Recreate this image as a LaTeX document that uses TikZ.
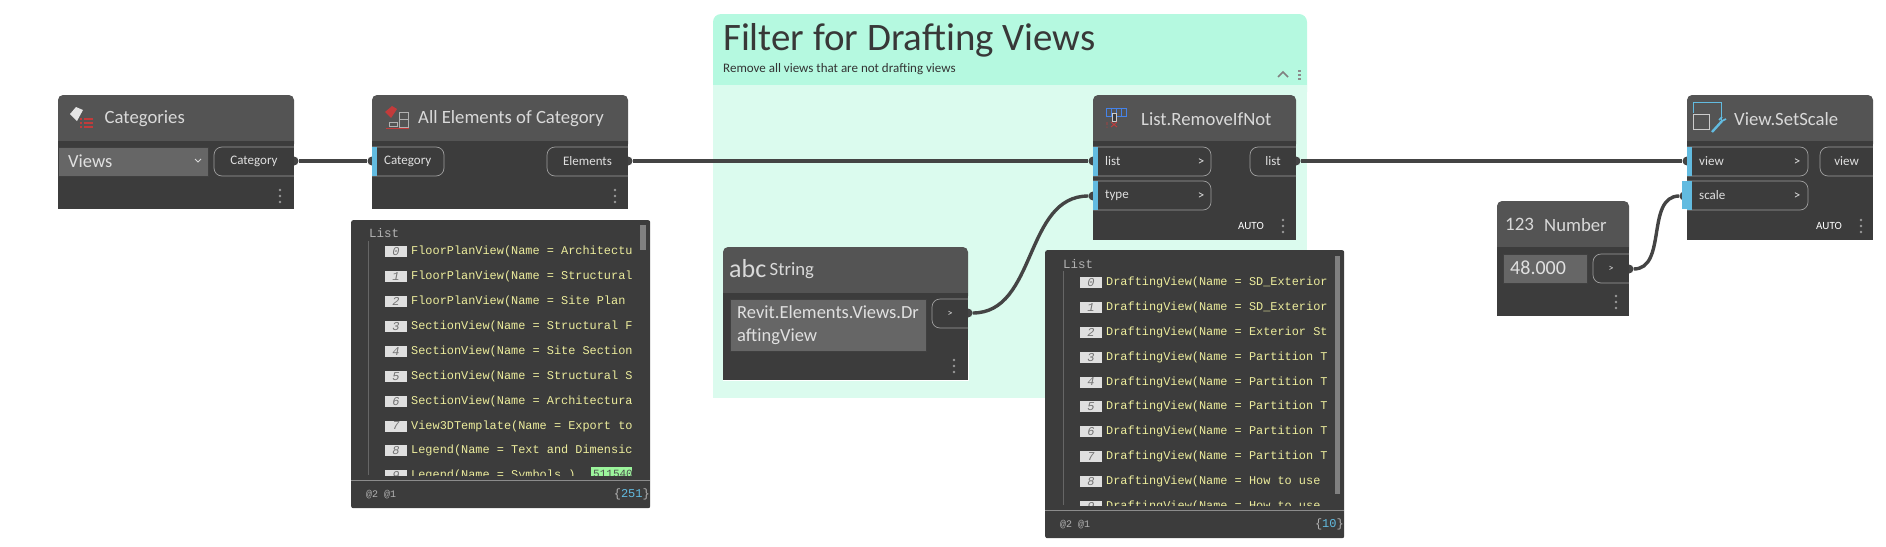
\documentclass[tikz,border=0pt]{standalone}
\usepackage{fontspec}
\setmainfont{Carlito}
\setmonofont{Liberation Mono}
\usetikzlibrary{positioning,arrows.meta}

\definecolor{bodyc}{HTML}{3C3C3C}
\definecolor{hdrc}{HTML}{545454}
\definecolor{portblue}{HTML}{62BBE0}
\definecolor{grouphdr}{HTML}{B5F9E0}
\definecolor{groupbody}{HTML}{DBFBEE}
\definecolor{valbox}{HTML}{666666}
\definecolor{wirec}{HTML}{444444}
\definecolor{listyellow}{HTML}{ECEC9C}
\definecolor{tagred}{HTML}{C23B3B}
\definecolor{taggreen}{HTML}{9CF59C}

\newcommand{\fpx}[1]{\fontsize{#1}{#1}\selectfont}

% name, x, y, width, height, header height, title x, title
\newcommand{\dynblock}[8]{
  \fill[hdrc,rounded corners=5pt] (#2,#3+#6+8) -- (#2,#3) -- (#2+#4,#3) -- (#2+#4,#3+#6+8) -- cycle;
  \node[blockbody,anchor=north west,minimum width=#4,minimum height=#5-#6] (#1) at (#2,#3+#6) {};
  \node[blocktitle] (#1title) at (#7,#3+#6/2+1) {#8};
}
% name, left, right, top, label
\newcommand{\inport}[5]{
  \draw[pill,rounded corners=8pt] (#2,#4) -- (#3,#4) -- (#3,#4+29) -- (#2,#4+29);
  \fill[portblue] (#2,#4) rectangle (#2+5,#4+29);
  \node[porttext,anchor=west] (#1) at (#2+12,#4+14) {#5};
}
\newcommand{\outport}[5]{
  \draw[pill,rounded corners=8pt] (#3,#4) -- (#2,#4) -- (#2,#4+29) -- (#3,#4+29);
  \node[porttext] (#1) at (#2/2+#3/2,#4+14.5) {#5};
}
\newcommand{\menudots}[2]{
  \foreach \d in {-6,0,6} \fill[gray!80] (#1,#2+\d) circle (1.3);
}
% x, y, index, text
\newcommand{\listrow}[4]{
  \fill[gray!25] (#1,#2-5.5) rectangle (#1+22,#2+5.5);
  \node[rownum] at (#1+11,#2) {#3};
  \node[rowtext] at (#1+26,#2) {#4};
}

\begin{document}
\begin{tikzpicture}[x=1pt,y=-1pt,
    blockbody/.style={fill=bodyc,inner sep=0pt,outer sep=0pt},
    blocktitle/.style={anchor=west,inner sep=0pt,font=\fpx{18.7},text=white!85!black},
    porttext/.style={inner sep=0pt,font=\fpx{13},text=white!88!black},
    pill/.style={draw=white!62!black,line width=0.7pt},
    valbox/.style={fill=valbox,draw=white!25!black,line width=0.7pt,inner sep=0pt},
    pin/.style={circle,fill=wirec,inner sep=0pt,minimum size=9pt},
    wire/.style={draw=wirec,line width=3.4pt},
    rownum/.style={inner sep=0pt,font=\ttfamily\itshape\fpx{12},text=black!55},
    rowtext/.style={anchor=west,inner sep=0pt,font=\ttfamily\fpx{11.9},text=listyellow},
    panel/.style={fill=bodyc,rounded corners=2pt},
    foot/.style={inner sep=0pt,font=\ttfamily\fpx{10},text=white!70!black},
    smalltext/.style={inner sep=0pt,font=\fpx{11},text=white}]
  \useasboundingbox (0,0) rectangle (1886,546);

  \fill[grouphdr,rounded corners=8pt] (713,100) -- (713,14) -- (1307,14) -- (1307,100) -- cycle;
  \fill[groupbody] (713,85) rectangle (1307,398);
  \node[anchor=base west,inner sep=0pt,font=\fpx{38.9},text=black!78] (grouptitle) at (723,50) {Filter for Drafting Views};
  \node[below=12pt of grouptitle.south west,anchor=west,inner sep=0pt,font=\fpx{13},text=black!80] (groupnote) {Remove all views that are not drafting views};
  \draw[black!50,line width=1.6pt] (1278,77) -- (1283,72) -- (1288,77);
  \foreach \d in {-4,0,4} \draw[black!45,line width=0.5pt] (1298,74+\d) rectangle (1300,75+\d);

  \node[pin] (catout) at (294,161) {};
  \node[pin] (allin) at (372,161) {};
  \node[pin] (allout) at (628,161) {};
  \node[pin] (listin) at (1093,161) {};
  \node[pin] (typein) at (1093,196) {};
  \node[pin] (listout) at (1296,161) {};
  \node[pin] (strout) at (968,313) {};
  \node[pin] (numout) at (1629,269) {};
  \node[pin] (viewin) at (1687,161) {};
  \node[pin] (scalein) at (1684,196) {};

  \dynblock{categories}{58}{95}{236}{114}{46}{104.5}{Categories}
  \fill[valbox] (58,147) rectangle (208,176);
  \node[anchor=west,inner sep=0pt,font=\fpx{18.5},text=white!88!black] (catvalue) at (68,161.5) {Views};
  \draw[white!85!black,line width=0.8pt] (195,159) -- (198,162) -- (201,159);
  \outport{catport}{214}{294}{147}{Category}
  \menudots{280}{196}
  \fill[white!90!black] (70,114) -- (76,107) -- (83,110) -- (77,121) -- cycle;
  \foreach \d in {119,123,127} {
    \fill[tagred] (80,\d-1) rectangle (82,\d+1);
    \fill[tagred] (84,\d-1) rectangle (93,\d+1);
  }

  \dynblock{allelements}{372}{95}{256}{114}{46}{418}{All Elements of Category}
  \inport{allcat}{372}{444}{147}{Category}
  \outport{allelem}{547}{628}{147}{Elements}
  \menudots{615}{196}
  \fill[tagred] (385,112) -- (392,106) -- (397,109) -- (391,118) -- cycle;
  \draw[white!70!black,line width=0.8pt] (399,112) rectangle (408,127) (399,119) -- (408,119) (389,122) rectangle (397,126);
  \draw[tagred,line width=0.8pt] (386,128) -- (409,128);

  \dynblock{removeif}{1093}{95}{203}{145}{46}{1141}{List.RemoveIfNot}
  \inport{remlist}{1093}{1211}{147}{list}
  \inport{remtype}{1093}{1211}{181}{type}
  \node[porttext] (remlistgt) at (1201,162) {>};
  \node[porttext] (remtypegt) at (1201,196) {>};
  \outport{remout}{1250}{1296}{147}{list}
  \node[smalltext,anchor=center] (remauto) at (1251,226) {AUTO};
  \menudots{1283}{226}
  \draw[portblue!70!blue,line width=0.8pt] (1106,108) rectangle (1126,116) (1111,108) -- (1111,116) (1116,108) -- (1116,116) (1121,108) -- (1121,116);
  \draw[white!80!black,fill=bodyc,line width=0.8pt] (1112,113) rectangle (1116,121);
  \draw[tagred,line width=0.9pt] (1111,122) -- (1117,127) (1117,122) -- (1111,127) (1107,122) -- (1107,125) (1107,126.5) -- (1107,127.5);

  \dynblock{stringnode}{723}{247}{245}{133}{46}{769.5}{String}
  \node[anchor=west,inner sep=0pt,font=\fpx{26},text=white!85!black] (abcicon) at (729,269) {abc};
  \node[valbox,minimum width=196,minimum height=52,anchor=north west] (strbox) at (729.5,299) {};
  \node[anchor=west,inner sep=0pt,align=left,font=\fontsize{18.5}{22.6}\selectfont,text=white!88!black] (strvalue) at (737,325) {Revit.Elements.Views.Dr\\aftingView};
  \outport{strport}{932}{968}{299}{\fpx{10}>}
  \menudots{954}{366}
  \draw[white,line width=1pt] (723,380.5) -- (968.5,380.5) -- (968.5,340);

  \dynblock{numbernode}{1497}{201}{132}{115}{46}{1544}{Number}
  \node[anchor=west,inner sep=0pt,font=\fpx{19},text=white!85!black] (numicon) at (1505,224) {123};
  \node[valbox,minimum width=84,minimum height=29,anchor=north west] (numbox) at (1503,254) {};
  \node[anchor=west,inner sep=0pt,font=\fpx{20},text=white!88!black] (numvalue) at (1510,268) {48.000};
  \outport{numport}{1593}{1629}{254}{\fpx{10}>}
  \menudots{1616}{302}

  \dynblock{setscale}{1687}{95}{186}{145}{46}{1734}{View.SetScale}
  \inport{viewport}{1687}{1808}{147}{view}
  \inport{scaleport}{1687}{1808}{181}{scale}
  \node[porttext] (viewgt) at (1797,162) {>};
  \node[porttext] (scalegt) at (1797,196) {>};
  \outport{viewout}{1820}{1873}{147}{view}
  \node[smalltext,anchor=center] (viewauto) at (1829,226) {AUTO};
  \menudots{1861}{226}
  \draw[portblue,line width=0.8pt] (1693,113) -- (1693,102) -- (1721,102) -- (1721,122);
  \draw[white!80!black,line width=1pt] (1693,114) rectangle (1709,129);
  \draw[portblue,line width=2.4pt] (1712,132) -- (1722,121);
  \draw[portblue,line width=1.6pt] (1719,120) -- (1722,117) (1722,121) -- (1726,119);

  \draw[wire] (catout) -- (allin);
  \draw[wire] (allout) -- (listin);
  \draw[wire] (listout) -- (viewin);
  \draw[wire] (strout) to[out=0,in=180] (typein);
  \draw[wire] (numout) to[out=0,in=180] (scalein);
  \fill[portblue] (1682,181) rectangle (1692,209);

  \node[panel,minimum width=299,minimum height=288,anchor=north west,inner sep=0pt] (elemlist) at (351,220) {};
  \node[foot,anchor=west,font=\ttfamily\fpx{12.5}] (elemhead) at (369,233) {List};
  \draw[white!40!black,line width=0.7pt] (368,241) -- (368,475);
  \begin{scope}
    \clip (380,240) rectangle (632,475);
    \foreach \i/\t in {0/FloorPlanView(Name = Architectu,1/FloorPlanView(Name = Structural,2/FloorPlanView(Name = Site Plan,3/SectionView(Name = Structural F,4/SectionView(Name = Site Section,5/SectionView(Name = Structural S,6/SectionView(Name = Architectura,7/View3DTemplate(Name = Export to,8/Legend(Name = Text and Dimensic,9/Legend(Name = Symbols )}
      \listrow{385}{251.7+\i*24.9}{\i}{\t};
    \fill[taggreen] (591,467) rectangle (632,476);
    \node[inner sep=0pt,anchor=west,font=\ttfamily\fpx{11},text=black!70] (elemtag) at (593,474) {511540};
  \end{scope}
  \fill[gray] (640,225) rectangle (646,250);
  \draw[white!55!black,line width=0.8pt] (351,480) -- (650,480);
  \node[foot,anchor=west] (elemat) at (366,495) {@2 @1};
  \node[foot,anchor=east,font=\ttfamily\fpx{12}] (elemcount) at (650,494) {\{\textcolor{portblue}{251}\}};

  \node[panel,minimum width=299,minimum height=288,anchor=north west,inner sep=0pt] (draftlist) at (1045,250) {};
  \node[foot,anchor=west,font=\ttfamily\fpx{12.5}] (drafthead) at (1063,264) {List};
  \draw[white!40!black,line width=0.7pt] (1063,271) -- (1063,505);
  \begin{scope}
    \clip (1075,270) rectangle (1326,505);
    \foreach \i/\t in {0/DraftingView(Name = SD\_Exterior,1/DraftingView(Name = SD\_Exterior,2/DraftingView(Name = Exterior St,3/DraftingView(Name = Partition T,4/DraftingView(Name = Partition T,5/DraftingView(Name = Partition T,6/DraftingView(Name = Partition T,7/DraftingView(Name = Partition T,8/DraftingView(Name = How to use,9/DraftingView(Name = How to use}
      \listrow{1080}{282.4+\i*24.9}{\i}{\t};
  \end{scope}
  \fill[gray] (1334.5,256) rectangle (1340,494);
  \draw[white!55!black,line width=0.8pt] (1045,510) -- (1344,510);
  \node[foot,anchor=west] (draftat) at (1060,525) {@2 @1};
  \node[foot,anchor=east,font=\ttfamily\fpx{12}] (draftcount) at (1344,524) {\{\textcolor{portblue}{10}\}};
\end{tikzpicture}
\end{document}
